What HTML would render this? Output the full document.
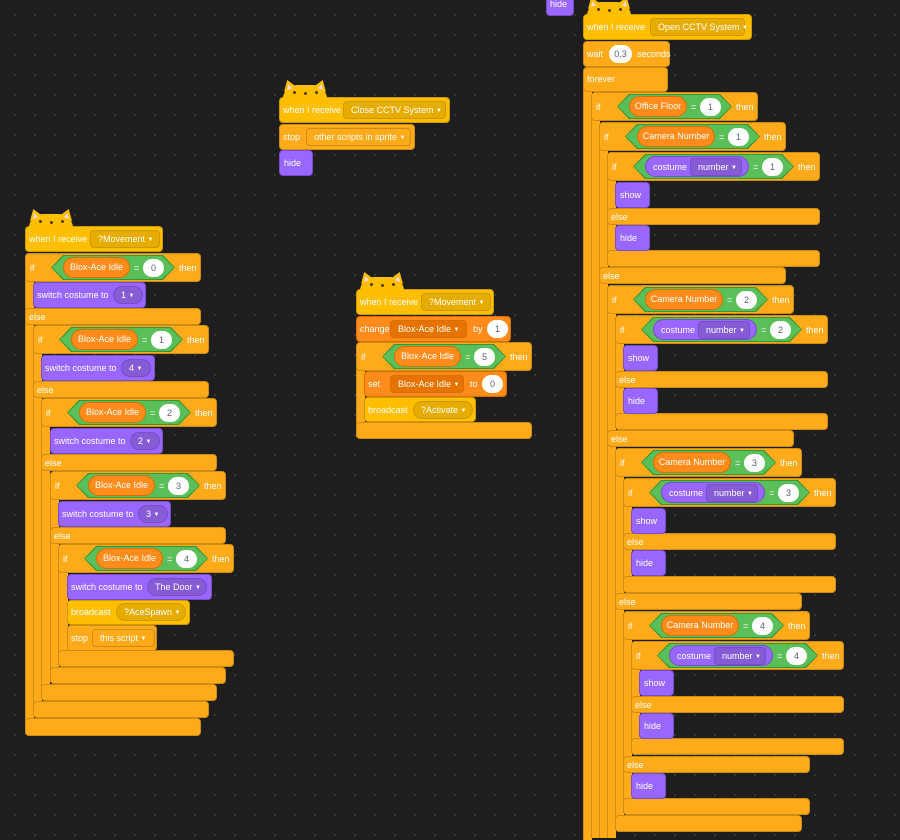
<!DOCTYPE html>
<html><head><meta charset="utf-8"><style>
html,body{margin:0;padding:0;}
body{width:900px;height:826px;overflow:hidden;background:#1e1e1e;background-image:radial-gradient(circle,#3a3a3a 0.8px,transparent 1.2px);background-size:20px 20px;background-position:5px 5px;font-family:"Liberation Sans",Arial,sans-serif;}
#s{position:relative;width:900px;height:826px;}
</style></head><body><div id="s"></div>
<script>
const S=document.getElementById('s');
const CTL='#ffab19',CTLB='#cf8b17',EVT='#ffbf00',EVTB='#cc9900',VAR='#ff8c1a',VARB='#db6e00',LK='#9966ff',LKB='#774dcb';
function el(css,html){const d=document.createElement('div');d.style.cssText='position:absolute;box-sizing:border-box;'+css;if(html!=null)d.innerHTML=html;S.appendChild(d);return d;}
function R(x,y,w,h,bg,bd,r){return el(`left:${x}px;top:${y}px;width:${w}px;height:${h}px;background:${bg};border:${bd?'1px solid '+bd:'none'};border-radius:${r==null?4:r}px;`);}
function T(x,cy,s,col){el(`left:${x}px;top:${cy-6}px;line-height:12px;font-size:9px;color:${col||'#fff'};white-space:nowrap;`,s);}
function oval(x,cy,w,s){el(`left:${x}px;top:${cy-9}px;width:${w}px;height:18px;background:#fff;border-radius:9px;font-size:9px;line-height:18px;text-align:center;color:#575e75;`,s);}
function dd(x,cy,w,s,bg,bd,r){el(`left:${x}px;top:${cy-9}px;width:${w}px;height:18px;background:${bg};border:1px solid ${bd};border-radius:${r==null?4:r}px;font-size:9px;line-height:16px;color:#fff;padding-left:7px;white-space:nowrap;`,s+' <span style="font-size:6px;vertical-align:1px">▼</span>');}
function cond(x,y,kind,label,pw,val){
  const hx=x+26,cy=y+14.5,px=hx+12,ex=px+pw,ox=ex+13,ow=21,he=ox+ow+11;
  const cp='clip-path:polygon(12px 0,calc(100% - 12px) 0,100% 50%,calc(100% - 12px) 100%,12px 100%,0 50%);';
  el(`left:${hx}px;top:${y+2}px;width:${he-hx}px;height:25px;background:#389438;${cp}`);
  el(`left:${hx+1}px;top:${y+3}px;width:${he-hx-2}px;height:23px;background:#59c059;${cp}`);
  if(kind=='var'){
    el(`left:${px}px;top:${cy-10.5}px;width:${pw}px;height:21px;background:${VAR};border:1px solid ${VARB};border-radius:11px;font-size:9px;line-height:19px;text-align:center;color:#fff;white-space:nowrap;`,label);
  } else {
    el(`left:${px}px;top:${cy-10.5}px;width:${pw}px;height:21px;background:${LK};border:1px solid ${LKB};border-radius:11px;`);
    T(px+8,cy,'costume');
    dd(px+45,cy,pw-52,'number','#855cd6',LKB,4);
  }
  T(ex+4,cy,'=');
  oval(ox,cy,ow,val);
  T(he+4,cy,'then');
  return he+26;
}
function cblock(x,y,kind,label,pw,val,bars,spineEnd,spw){
  spw=spw||8;
  // precompute width
  const he=x+26+12+pw+13+21+11; const w=he+26-x;
  let end=y+29; bars.forEach(b=>{end=Math.max(end,b[0]+b[1]);});
  if(spineEnd) end=Math.max(end,spineEnd);
  el(`left:${x}px;top:${y+10}px;width:${spw+1}px;height:${end-y-12}px;background:${CTL};border-left:1px solid ${CTLB};`);
  bars.forEach(b=>{R(x,b[0],w,b[1],CTL,CTLB,4); if(b[2])T(x+4,b[0]+b[1]/2,b[2]);});
  R(x,y,w,29,CTL,CTLB,4);
  T(x+5,y+14.5,'if');
  cond(x,y,kind,label,pw,val);
}
function hat(x,y,w,ddx,ddw,s){
  R(x,y,w,26,EVT,EVTB,4);
  el(`left:${x+4}px;top:${y-12}px;width:44px;height:14px;background:${EVT};border-radius:22px 22px 0 0;`);
  el(`left:${x+5}px;top:${y-17}px;width:13px;height:12px;background:${EVT};clip-path:polygon(0 100%,25% 0,100% 60%);`);
  el(`left:${x+34}px;top:${y-17}px;width:13px;height:12px;background:${EVT};clip-path:polygon(0 60%,75% 0,100% 100%);`);
  el(`left:${x+8}px;top:${y-13}px;width:5px;height:6px;background:#ffd5e6;clip-path:polygon(0 100%,30% 0,100% 70%);`);
  el(`left:${x+39}px;top:${y-13}px;width:5px;height:6px;background:#ffd5e6;clip-path:polygon(0 70%,70% 0,100% 100%);`);
  [14,25,36].forEach((o,i)=>el(`left:${x+o}px;top:${y-6+(i==1?1:0)}px;width:3px;height:3px;border-radius:2px;background:#4a3a10;`));
  T(x+4,y+13,'when I receive');
  dd(ddx,y+13,ddw,s,'#e6ac00',EVTB,4);
}
function sw(x,y,w,ddw,s){R(x,y,w,26,LK,LKB,4);T(x+4,y+13,'switch costume to');dd(x+80,y+13,ddw,s,'#855cd6',LKB,9);}
function lk(x,y,s,w){R(x,y,w||35,26,LK,LKB,4);T(x+5,y+13,s);}

/* ---- left script ---- */
hat(25,226,138,90,70,'?Movement');
cblock(25,253,'var','Blox-Ace Idle',67,'0',[[308,17,'else'],[718,18]]);
sw(33,282,113,30,'1');
cblock(33,325,'var','Blox-Ace Idle',67,'1',[[381,17,'else'],[701,17]]);
sw(41,355,114,30,'4');
cblock(41,398,'var','Blox-Ace Idle',67,'2',[[454,17,'else'],[684,17]]);
sw(50,428,113,30,'2');
cblock(50,471,'var','Blox-Ace Idle',67,'3',[[527,17,'else'],[667,17]]);
sw(58,501,113,30,'3');
cblock(58,544,'var','Blox-Ace Idle',67,'4',[[650,17]],0,9);
sw(67,574,145,60,'The Door');
R(67,600,123,25,EVT,EVTB,4);T(71,612,'broadcast');dd(116,612,70,'?AceSpawn','#e6ac00',EVTB,9);
R(67,625,90,26,CTL,CTLB,4);T(71,638,'stop');dd(92,638,63,'this script','#ffab19',CTLB,4);

/* ---- close cctv ---- */
hat(279,97,171,343,103,'Close CCTV System');
R(279,124,136,26,CTL,CTLB,4);T(283,137,'stop');dd(306,137,105,'other scripts in sprite','#ffab19',CTLB,4);
lk(279,150,'hide',34);

/* ---- middle script ---- */
hat(356,289,138,421,70,'?Movement');
R(356,316,155,26,VAR,VARB,4);T(360,329,'change');dd(390,329,77,'Blox-Ace Idle','#e67300',VARB,4);T(473,329,'by');oval(487,329,21,'1');
cblock(356,342,'var','Blox-Ace Idle',67,'5',[[422,17]]);
R(364,371,143,26,VAR,VARB,4);T(368,384,'set');dd(390,384,74,'Blox-Ace Idle','#e67300',VARB,4);T(470,384,'to');oval(482,384,21,'0');
R(364,397,112,25,EVT,EVTB,4);T(368,410,'broadcast');dd(413,410,60,'?Activate','#e6ac00',EVTB,9);

/* ---- right script ---- */
R(546,-6,28,22,LK,LKB,4);T(550,4,'hide');
hat(583,14,169,650,95,'Open CCTV System');
R(583,41,87,26,CTL,CTLB,4);T(587,54,'wait');oval(609,54,23,'0.3');T(637,54,'seconds');
el(`left:583px;top:80px;width:9px;height:760px;background:${CTL};border-left:1px solid ${CTLB};`);
R(583,67,85,25,CTL,CTLB,4);T(587,79,'forever');
cblock(591,92,'var','Office Floor',58,'1',[],840);
cblock(599,122,'var','Camera Number',78,'1',[[267,17,'else']],840);
cblock(607,152,'cost','',104,'1',[[208,17,'else'],[250,17]]);
lk(615,182,'show');lk(615,225,'hide');
cblock(607,285,'var','Camera Number',78,'2',[[430,17,'else']],840);
cblock(615,315,'cost','',104,'2',[[371,17,'else'],[413,17]]);
lk(623,345,'show');lk(623,388,'hide');
cblock(615,448,'var','Camera Number',78,'3',[[593,17,'else'],[815,17]]);
cblock(623,478,'cost','',104,'3',[[533,17,'else'],[576,17]]);
lk(631,508,'show');lk(631,550,'hide');
cblock(623,611,'var','Camera Number',78,'4',[[756,17,'else'],[798,17]]);
cblock(631,641,'cost','',104,'4',[[696,17,'else'],[738,17]]);
lk(639,670,'show');lk(639,713,'hide');
lk(631,773,'hide');
</script></body></html>
